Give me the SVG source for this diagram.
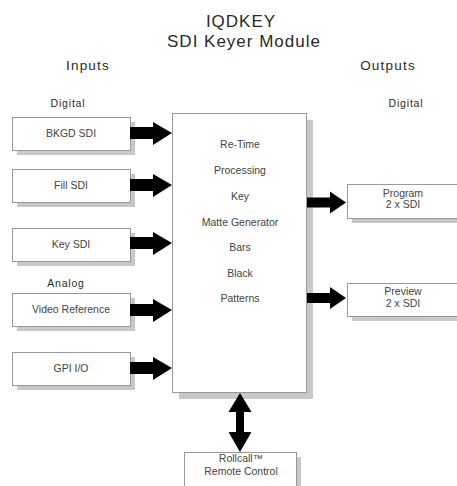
<svg xmlns="http://www.w3.org/2000/svg" width="457" height="486" viewBox="0 0 457 486">
<style>
.bg{fill:#fff}
.box{fill:#fff;stroke:#999;stroke-width:1}
.sh{fill:#c8c8c8}
.title{font-family:"Liberation Sans",Arial,sans-serif;font-size:17px;fill:#2a2a2a;text-anchor:middle;letter-spacing:1px}
.head{font-family:"Liberation Sans",Arial,sans-serif;font-size:13.5px;fill:#2a2a2a;text-anchor:middle;letter-spacing:1.2px}
.sub{font-family:"Liberation Sans",Arial,sans-serif;font-size:10.5px;fill:#2a2a2a;text-anchor:middle;letter-spacing:0.8px}
.lbl{font-family:"Liberation Sans",Arial,sans-serif;font-size:10.5px;fill:#444;text-anchor:middle}
.arr{fill:#000}
</style>
<rect class="bg" x="0" y="0" width="457" height="486"/>
<g id="titles">
<text class="title" x="241" y="27">IQDKEY</text>
<text class="title" x="244" y="47">SDI Keyer Module</text>
<text class="head" x="88" y="70">Inputs</text>
<text class="head" x="388" y="70">Outputs</text>
<text class="sub" x="68" y="107">Digital</text>
<text class="sub" x="406" y="107">Digital</text>
<text class="sub" x="66" y="287">Analog</text>
</g>
<g id="bkgd">
<rect class="sh" x="17" y="122" width="118" height="33"/>
<rect class="box" x="12.5" y="117.5" width="118" height="33"/>
<text class="lbl" x="71" y="137">BKGD SDI</text>
</g>
<g id="fill">
<rect class="sh" x="17" y="174" width="118" height="33"/>
<rect class="box" x="12.5" y="169.5" width="118" height="33"/>
<text class="lbl" x="71" y="189">Fill SDI</text>
</g>
<g id="key">
<rect class="sh" x="17" y="233" width="118" height="33"/>
<rect class="box" x="12.5" y="228.5" width="118" height="33"/>
<text class="lbl" x="71" y="248">Key SDI</text>
</g>
<g id="videoref">
<rect class="sh" x="17" y="298" width="118" height="33"/>
<rect class="box" x="12.5" y="293.5" width="118" height="33"/>
<text class="lbl" x="71" y="313">Video Reference</text>
</g>
<g id="gpi">
<rect class="sh" x="17" y="357" width="118" height="33"/>
<rect class="box" x="12.5" y="352.5" width="118" height="33"/>
<text class="lbl" x="71" y="372">GPI I/O</text>
</g>
<g id="main">
<rect class="sh" x="179" y="120" width="134" height="279"/>
<rect class="box" x="172.5" y="113.5" width="134" height="279"/>
<text class="lbl" x="240" y="148">Re-Time</text>
<text class="lbl" x="240" y="174">Processing</text>
<text class="lbl" x="240" y="200">Key</text>
<text class="lbl" x="240" y="226">Matte Generator</text>
<text class="lbl" x="240" y="251">Bars</text>
<text class="lbl" x="240" y="277">Black</text>
<text class="lbl" x="240" y="302">Patterns</text>
</g>
<g id="program">
<rect class="sh" x="352" y="189" width="110" height="34"/>
<rect class="box" x="347.5" y="184.5" width="115" height="34"/>
<text class="lbl" x="403" y="197">Program</text>
<text class="lbl" x="403" y="208">2 x SDI</text>
</g>
<g id="preview">
<rect class="sh" x="352" y="288" width="110" height="33"/>
<rect class="box" x="347.5" y="283.5" width="115" height="33"/>
<text class="lbl" x="403" y="295">Preview</text>
<text class="lbl" x="403" y="307">2 x SDI</text>
</g>
<g id="rollcall">
<rect class="sh" x="189" y="457" width="112" height="40"/>
<rect class="box" x="184.5" y="452.5" width="112" height="40"/>
<text class="lbl" x="241" y="462">Rollcall™</text>
<text class="lbl" x="241" y="475">Remote Control</text>
</g>
<g id="connectors">
<path class="arr" d="M130,127 H153 V122 L172,133 L153,145 V139 H130 Z"/>
<path class="arr" d="M130,179 H153 V174 L172,185 L153,197 V191 H130 Z"/>
<path class="arr" d="M130,237 H153 V232 L172,243 L153,255 V249 H130 Z"/>
<path class="arr" d="M130,304 H153 V299 L172,310 L153,322 V316 H130 Z"/>
<path class="arr" d="M130,362 H153 V357 L172,368 L153,380 V374 H130 Z"/>
<path class="arr" d="M307,197.5 H330 V191.5 L346,202.5 L330,213.5 V207.5 H307 Z"/>
<path class="arr" d="M307,293 H330 V287 L346,298 L330,309 V303 H307 Z"/>
<path class="arr" d="M240,393 L251.5,412 H244 V432 H251.5 L240,452 L228.5,432 H236 V412 H228.5 Z"/>
</g>
</svg>
